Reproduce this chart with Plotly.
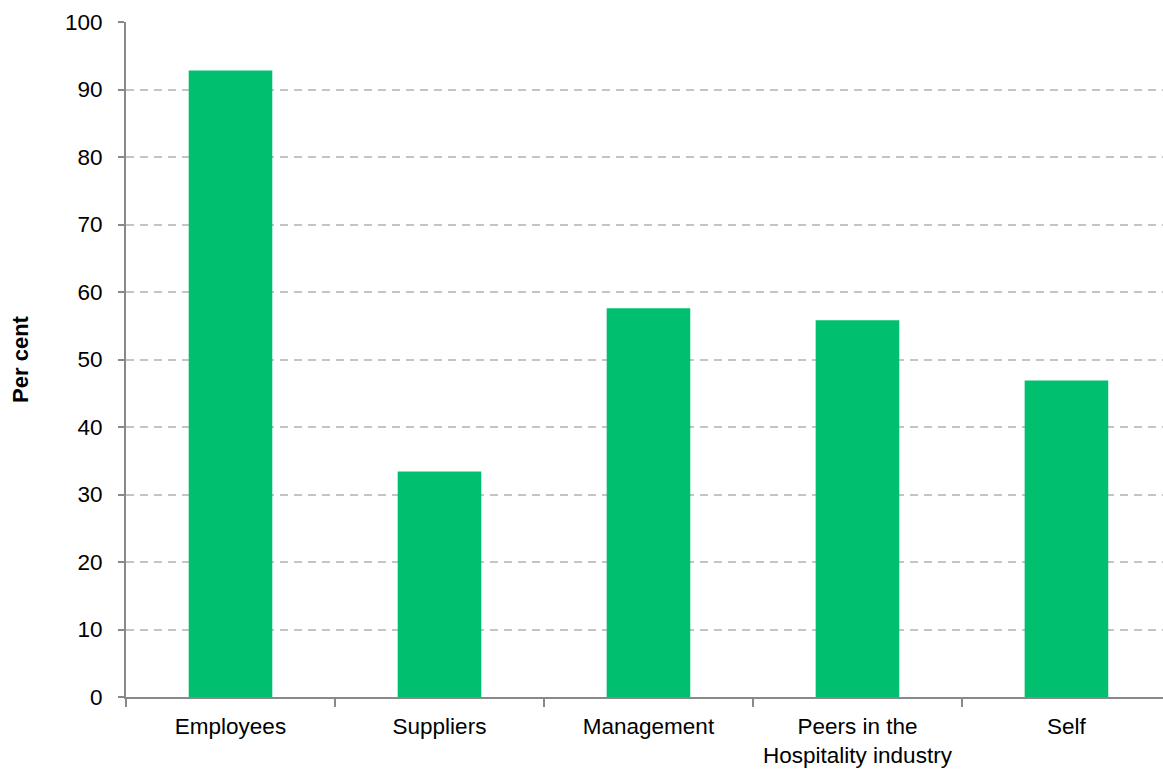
import plotly.graph_objects as go

# Share of respondents by group (per cent)
categories = ["Employees", "Suppliers", "Management", "Peers in the<br>Hospitality industry", "Self"]
values = [92.8, 33.4, 57.6, 55.8, 46.9]
y_ticks = [0, 10, 20, 30, 40, 50, 60, 70, 80, 90, 100]

BAR_COLOR = "#00BF6F"
AXIS_COLOR = "#898989"
GRID_COLOR = "#C4C4C4"
FONT = "Liberation Sans, Arial, sans-serif"
TICK_SIZE = 22.5

fig = go.Figure(
    go.Bar(
        x=categories,
        y=values,
        marker=dict(color=BAR_COLOR, line=dict(width=0)),
        width=0.4,
    )
)

fig.update_layout(
    width=1163,
    height=769,
    margin=dict(l=126, r=0, t=22, b=72),
    paper_bgcolor="white",
    plot_bgcolor="white",
    showlegend=False,
    font=dict(family=FONT, size=TICK_SIZE, color="#000000"),
)

fig.update_xaxes(
    type="category",
    range=[-0.5, 4.462],
    tickson="boundaries",
    ticks="outside",
    ticklen=8,
    tickwidth=2,
    tickcolor=AXIS_COLOR,
    ticklabelstandoff=8,
    showline=True,
    linecolor=AXIS_COLOR,
    linewidth=2,
    showgrid=False,
    tickfont=dict(family=FONT, size=TICK_SIZE, color="#000000"),
)

fig.update_yaxes(
    range=[0, 100],
    tickvals=y_ticks,
    ticks="outside",
    ticklen=6,
    tickwidth=2,
    tickcolor=AXIS_COLOR,
    ticklabelstandoff=11,
    showline=True,
    linecolor=AXIS_COLOR,
    linewidth=2,
    showgrid=True,
    gridcolor=GRID_COLOR,
    gridwidth=2,
    griddash="8px,6px",
    zeroline=False,
    tickfont=dict(family=FONT, size=TICK_SIZE, color="#000000"),
    title=dict(
        text="<b>Per cent</b>",
        font=dict(family=FONT, size=22, color="#000000"),
        standoff=30,
    ),
)

fig.write_html("out.html")
